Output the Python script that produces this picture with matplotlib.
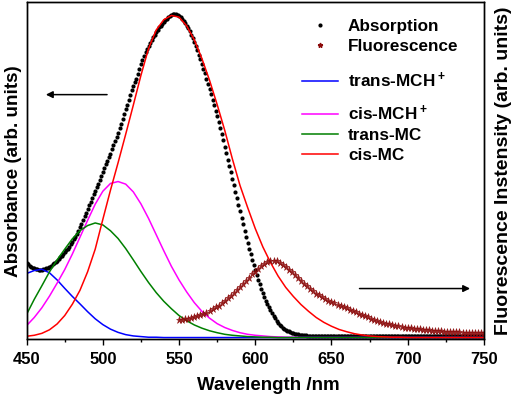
import numpy as np
import matplotlib
matplotlib.use("Agg")
import matplotlib.pyplot as plt

plt.rcParams['font.family'] = ['Liberation Sans', 'DejaVu Sans']
plt.rcParams['font.weight'] = 'bold'
plt.rcParams['axes.labelweight'] = 'bold'
plt.rcParams['mathtext.fontset'] = 'custom'
plt.rcParams['mathtext.bf'] = 'Liberation Sans:bold'
plt.rcParams['mathtext.rm'] = 'Liberation Sans:bold'
plt.rcParams['mathtext.default'] = 'bf'

# absorption spectrum, 1 nm steps 450-750 (normalised)
abs_wl = np.arange(450, 751)
abs_val = [
    0.230, 0.226, 0.222, 0.219, 0.216, 0.214, 0.212, 0.211, 0.210, 0.210,
    0.210, 0.211, 0.212, 0.214, 0.216, 0.219, 0.222, 0.226, 0.230, 0.234,
    0.238, 0.243, 0.248, 0.253, 0.258, 0.263, 0.269, 0.275, 0.281, 0.288,
    0.295, 0.303, 0.312, 0.321, 0.330, 0.340, 0.351, 0.362, 0.374, 0.386,
    0.398, 0.409, 0.420, 0.431, 0.442, 0.453, 0.464, 0.475, 0.487, 0.499,
    0.511, 0.523, 0.535, 0.546, 0.557, 0.568, 0.581, 0.594, 0.607, 0.620,
    0.633, 0.647, 0.661, 0.676, 0.690, 0.705, 0.720, 0.735, 0.750, 0.764,
    0.778, 0.789, 0.800, 0.815, 0.830, 0.844, 0.858, 0.871, 0.882, 0.892,
    0.902, 0.911, 0.920, 0.928, 0.936, 0.944, 0.951, 0.958, 0.964, 0.970,
    0.975, 0.980, 0.985, 0.989, 0.993, 0.996, 0.999, 1.000, 0.999, 0.997,
    0.994, 0.990, 0.985, 0.979, 0.972, 0.964, 0.955, 0.946, 0.936, 0.925,
    0.913, 0.900, 0.887, 0.874, 0.860, 0.846, 0.831, 0.816, 0.800, 0.784,
    0.768, 0.751, 0.734, 0.717, 0.700, 0.683, 0.665, 0.647, 0.629, 0.610,
    0.590, 0.570, 0.550, 0.530, 0.510, 0.490, 0.470, 0.450, 0.430, 0.410,
    0.390, 0.370, 0.350, 0.330, 0.311, 0.292, 0.274, 0.257, 0.240, 0.224,
    0.208, 0.193, 0.179, 0.165, 0.151, 0.138, 0.126, 0.114, 0.103, 0.093,
    0.084, 0.075, 0.067, 0.059, 0.052, 0.046, 0.040, 0.035, 0.031, 0.027,
    0.024, 0.021, 0.019, 0.017, 0.015, 0.013, 0.012, 0.011, 0.010, 0.009,
    0.0080, 0.0075, 0.0070, 0.0066, 0.0062, 0.0060, 0.0057, 0.0055, 0.0053, 0.0051,
    0.0050, 0.0049, 0.0048, 0.0047, 0.0046, 0.0045, 0.0045, 0.0044, 0.0044, 0.0043,
    0.0043, 0.0042, 0.0042, 0.0042, 0.0041, 0.0041, 0.0041, 0.0040, 0.0040, 0.0040,
    0.0040, 0.0039, 0.0039, 0.0039, 0.0039, 0.0038, 0.0038, 0.0038, 0.0038, 0.0038,
    0.0037, 0.0037, 0.0037, 0.0037, 0.0037, 0.0037, 0.0036, 0.0036, 0.0036, 0.0036,
    0.0036, 0.0036, 0.0036, 0.0035, 0.0035, 0.0035, 0.0035, 0.0035, 0.0035, 0.0035,
    0.0035, 0.0035, 0.0034, 0.0034, 0.0034, 0.0034, 0.0034, 0.0034, 0.0034, 0.0034,
    0.0034, 0.0034, 0.0034, 0.0034, 0.0033, 0.0033, 0.0033, 0.0033, 0.0033, 0.0033,
    0.0033, 0.0033, 0.0033, 0.0033, 0.0033, 0.0033, 0.0033, 0.0033, 0.0033, 0.0033,
    0.0033, 0.0033, 0.0033, 0.0033, 0.0033, 0.0033, 0.0033, 0.0033, 0.0033, 0.0033,
    0.0033, 0.0033, 0.0033, 0.0033, 0.0033, 0.0033, 0.0033, 0.0033, 0.0033, 0.0033,
    0.0033, 0.0033, 0.0033, 0.0033, 0.0033, 0.0033, 0.0033, 0.0033, 0.0033, 0.0033,
    0.0033,
]

# fluorescence spectrum, 2 nm steps 550-750 (normalised to the same scale)
fl_wl = np.arange(550, 751, 2)
fl_val = [
    0.054, 0.055, 0.056, 0.058, 0.060, 0.063, 0.066, 0.069, 0.073, 0.077,
    0.082, 0.087, 0.093, 0.099, 0.106, 0.113, 0.121, 0.129, 0.138, 0.147,
    0.156, 0.165, 0.175, 0.185, 0.195, 0.204, 0.213, 0.221, 0.227, 0.232,
    0.235, 0.236, 0.235, 0.231, 0.225, 0.218, 0.210, 0.202, 0.193, 0.184,
    0.175, 0.166, 0.158, 0.150, 0.143, 0.136, 0.130, 0.124, 0.119, 0.114,
    0.110, 0.106, 0.102, 0.098, 0.094, 0.090, 0.086, 0.082, 0.078, 0.074,
    0.070, 0.066, 0.062, 0.058, 0.055, 0.052, 0.049, 0.046, 0.043, 0.041,
    0.039, 0.037, 0.035, 0.033, 0.031, 0.029, 0.028, 0.027, 0.026, 0.025,
    0.024, 0.023, 0.022, 0.021, 0.020, 0.019, 0.019, 0.018, 0.018, 0.017,
    0.017, 0.016, 0.016, 0.015, 0.015, 0.015, 0.014, 0.014, 0.014, 0.013,
    0.013,
]

# fitted components, 5 nm steps 450-750
comp_wl = np.arange(450, 751, 5)
trans_mch = [
    0.198, 0.207, 0.211, 0.200, 0.178, 0.152, 0.127, 0.104, 0.080, 0.058,
    0.040, 0.026, 0.016, 0.009, 0.005, 0.003, 0.001, 0.001, 0.0, 0.0,
    0.0, 0.0, 0.0, 0.0, 0.0, 0.0, 0.0, 0.0, 0.0, 0.0,
    0.0, 0.0, 0.0, 0.0, 0.0, 0.0, 0.0, 0.0, 0.0, 0.0,
    0.0, 0.0, 0.0, 0.0, 0.0, 0.0, 0.0, 0.0, 0.0, 0.0,
    0.0, 0.0, 0.0, 0.0, 0.0, 0.0, 0.0, 0.0, 0.0, 0.0,
    0.0,
]
cis_mch = [
    0.037, 0.062, 0.092, 0.128, 0.168, 0.210, 0.258, 0.310, 0.362, 0.412,
    0.452, 0.476, 0.482, 0.474, 0.450, 0.413, 0.368, 0.318, 0.268, 0.220,
    0.178, 0.141, 0.108, 0.081, 0.060, 0.043, 0.031, 0.022, 0.015, 0.010,
    0.007, 0.005, 0.003, 0.002, 0.001, 0.001, 0.0, 0.0, 0.0, 0.0,
    0.0, 0.0, 0.0, 0.0, 0.0, 0.0, 0.0, 0.0, 0.0, 0.0,
    0.0, 0.0, 0.0, 0.0, 0.0, 0.0, 0.0, 0.0, 0.0, 0.0,
    0.0,
]
trans_mc = [
    0.072, 0.118, 0.160, 0.203, 0.240, 0.273, 0.305, 0.330, 0.346, 0.354,
    0.348, 0.330, 0.306, 0.275, 0.240, 0.204, 0.170, 0.139, 0.112, 0.089,
    0.068, 0.052, 0.039, 0.029, 0.021, 0.015, 0.010, 0.007, 0.005, 0.003,
    0.002, 0.001, 0.001, 0.0, 0.0, 0.0, 0.0, 0.0, 0.0, 0.0,
    0.0, 0.0, 0.0, 0.0, 0.0, 0.0, 0.0, 0.0, 0.0, 0.0,
    0.0, 0.0, 0.0, 0.0, 0.0, 0.0, 0.0, 0.0, 0.0, 0.0,
    0.0,
]
cis_mc = [
    0.004, 0.007, 0.013, 0.024, 0.042, 0.068, 0.103, 0.146, 0.203, 0.273,
    0.365, 0.455, 0.540, 0.628, 0.718, 0.810, 0.893, 0.950, 0.982, 0.995,
    0.990, 0.963, 0.920, 0.862, 0.795, 0.720, 0.640, 0.552, 0.470, 0.402,
    0.337, 0.280, 0.232, 0.190, 0.155, 0.127, 0.102, 0.081, 0.062, 0.047,
    0.035, 0.025, 0.018, 0.012, 0.008, 0.005, 0.003, 0.002, 0.001, 0.001,
    0.0, 0.0, 0.0, 0.0, 0.0, 0.0, 0.0, 0.0, 0.0, 0.0,
    0.0,
]

fig = plt.figure(figsize=(5.12, 3.97), dpi=100)
ax = fig.add_axes([0.052, 0.146, 0.893, 0.848])
ax2 = ax.twinx()

ylim = (-0.0046, 1.0355)

h_abs, = ax.plot(abs_wl, abs_val, 'o', color='black', ms=3.0, mew=0, label='Absorption')
ax2.plot(fl_wl, fl_val, '*', color='#8b0a0a', ms=5.2, mew=0.4, alpha=0.9)
h_fl, = ax.plot([], [], '*', color='#8b0a0a', ms=3.5, label='Fluorescence')
h1, = ax.plot(comp_wl, trans_mch, color='#0000ff', lw=1.1, label='trans-MCH$^+$')
h2, = ax.plot(comp_wl, cis_mch, color='#ff00ff', lw=1.1, label='cis-MCH$^+$')
h3, = ax.plot(comp_wl, trans_mc, color='#008000', lw=1.1, label='trans-MC')
h4, = ax.plot(comp_wl, cis_mc, color='#ff0000', lw=1.1, label='cis-MC')

ax.set_xlim(450, 750)
ax.set_ylim(*ylim)
ax2.set_ylim(*ylim)
ax.set_xticks(range(450, 751, 50))
ax.set_xticks(range(475, 750, 50), minor=True)
ax.tick_params(axis='x', which='major', direction='out', length=4, width=1, labelsize=12, pad=5)
ax.tick_params(axis='x', which='minor', direction='out', length=2.5, width=1)
for t in ax.get_xticklabels():
    t.set_fontweight('bold')
ax.set_yticks([])
ax2.set_yticks([])
for a in (ax, ax2):
    for s in a.spines.values():
        s.set_linewidth(1.0)

ax.set_xlabel('Wavelength /nm', fontsize=13.5, fontweight='bold')
ax.xaxis.set_label_coords(0.529, -0.114)
ax.set_ylabel('Absorbance (arb. units)', fontsize=13.6, fontweight='bold', labelpad=3)
ax2.set_ylabel('Fluorescence Instensity (arb. units)', fontsize=14, fontweight='bold', labelpad=8)

ax.annotate('', xy=(0.036, 0.726), xytext=(0.182, 0.726), xycoords='axes fraction',
            arrowprops=dict(arrowstyle='-|>', color='black', lw=1.1, mutation_scale=10))
ax.annotate('', xy=(0.976, 0.15), xytext=(0.722, 0.15), xycoords='axes fraction',
            arrowprops=dict(arrowstyle='-|>', color='black', lw=1.1, mutation_scale=10))

leg_kw = dict(loc='upper left', frameon=False, prop={'size': 12.3, 'weight': 'bold'},
              handlelength=2.1, handletextpad=0.6, labelspacing=0.3, borderpad=0,
              borderaxespad=0, numpoints=1)
groups = [([h_abs, h_fl], 0.950), ([h1], 0.797), ([h2, h3, h4], 0.699)]
legs = []
for handles, ytop in groups:
    lg = ax.legend(handles=handles, bbox_to_anchor=(0.602, ytop), **leg_kw)
    legs.append(lg)
for lg in legs[:-1]:
    ax.add_artist(lg)

fig.savefig('out.png', dpi=100)
